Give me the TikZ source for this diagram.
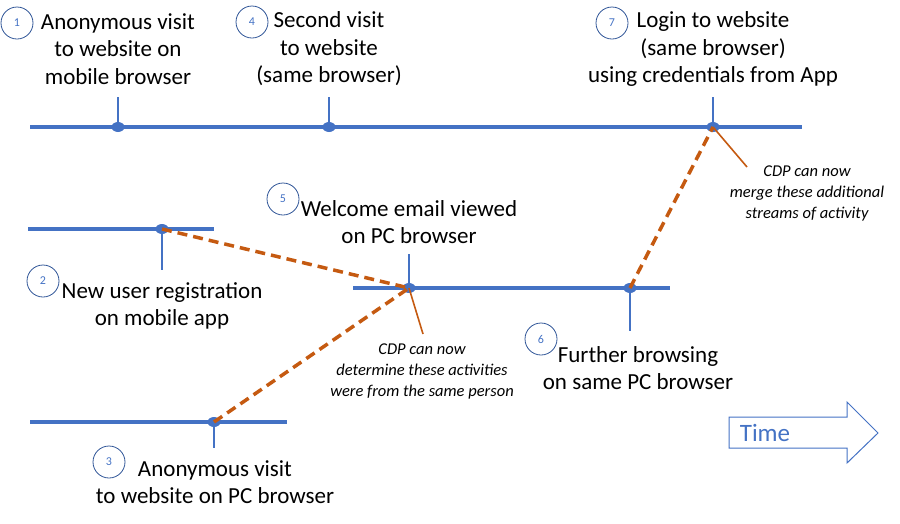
\documentclass[tikz,border=0pt]{standalone}
\usepackage{fontspec}
\setmainfont{Carlito}
\usetikzlibrary{shapes,arrows}
\usetikzlibrary{positioning}
\definecolor{lineblue}{HTML}{4472C4}
\definecolor{ringblue}{HTML}{2F5597}
\definecolor{linkorange}{HTML}{C55A11}

\begin{document}
\begin{tikzpicture}[x=1pt,y=-1pt,
    node distance = 0mm,
every node/.style = {inner sep=0pt},
       tl/.style = {draw=lineblue, line width=3.5pt},
   tickln/.style = {draw=lineblue, line width=2.5pt},
      dot/.style = {ellipse, fill=lineblue, minimum width=13pt, minimum height=10pt},
     link/.style = {draw=linkorange, line width=3.5pt, dash pattern=on 10pt off 6pt},
  pointer/.style = {draw=linkorange, line width=1.6pt},
      num/.style = {circle, draw=ringblue, line width=0.8pt, minimum size=32pt,
                    text=lineblue, font=\fontsize{12}{14}\selectfont},
      evt/.style = {align=center, font=\fontsize{23}{27.5}\selectfont},
      cmt/.style = {align=center, font=\fontsize{16.5}{21}\selectfont\itshape}]
\useasboundingbox (0,0) rectangle (900,523);
% time lines
\coordinate (mw) at (30,127);   \coordinate (me) at (802,127);
\coordinate (aw) at (28,229);   \coordinate (ae) at (214,229);
\coordinate (pw) at (353,288);  \coordinate (pe) at (670,288);
\coordinate (cw) at (30,422);   \coordinate (ce) at (287,422);
    \draw[tl] (mw) -- (me);
    \draw[tl] (aw) -- (ae);
    \draw[tl] (pw) -- (pe);
    \draw[tl] (cw) -- (ce);
% events
\node[dot] (e1) at (118,127) {};
\node[dot] (e4) at (329,127) {};
\node[dot] (e7) at (713,127) {};
\node[dot] (e2) at (162,229) {};
\node[dot] (e5) at (409,288) {};
\node[dot] (e6) at (630,288) {};
\node[dot] (e3) at (214,422) {};
\coordinate (t1) at (118,97);
\coordinate (t4) at (329,97);
\coordinate (t7) at (713,97);
\coordinate (t2) at (162,270);
\coordinate (t5) at (409,254);
\coordinate (t6) at (630,331);
\coordinate (t3) at (214,448);
    \draw[tickln] (e1.center) -- (t1);
    \draw[tickln] (e4.center) -- (t4);
    \draw[tickln] (e7.center) -- (t7);
    \draw[tickln] (e2.center) -- (t2);
    \draw[tickln] (e5.center) -- (t5);
    \draw[tickln] (e6.center) -- (t6);
    \draw[tickln] (e3.center) -- (t3);
% links
    \draw[link] (e2.center) -- (e5.center);
    \draw[link] (e3.center) -- (e5.center);
    \draw[link] (e6.center) -- (e7.center);
\coordinate (pa) at (423,334);
\coordinate (pb) at (747,167);
    \draw[pointer] (e5.center) -- (pa);
    \draw[pointer] (e7.center) -- (pb);
% numbers
\node[num] (n1) at (17,23)   {1};
\node[num] (n4) at (252,22)  {4};
\node[num] (n7) at (612,23)  {7};
\node[num] (n2) at (43,281)  {2};
\node[num] (n5) at (283,199) {5};
\node[num] (n6) at (541,339) {6};
\node[num] (n3) at (109,462) {3};
% labels
\node[evt] (l1) at (118,49)  {Anonymous visit\\to website on\\mobile browser};
\node[evt] (l4) at (329,49)  {Second visit\\to website\\(same browser)};
\node[evt] (l7) at (713,49)  {Login to website\\(same browser)\\using credentials from App};
\node[evt] (l2) at (162,306) {New user registration\\on mobile app};
\node[evt] (l5) at (409,222) {Welcome email viewed\\on PC browser};
\node[evt] (l6) at (638,368) {Further browsing\\on same PC browser};
\node[evt] (l3) at (215,482) {Anonymous visit\\to website on PC browser};
\node[cmt] (c5) at (422,371) {CDP can now\\determine these activities\\were from the same person};
\node[cmt] (c7) at (807,193) {CDP can now\\merge these additional\\streams of activity};
% time arrow
    \draw[draw=lineblue, line width=1pt] (729,417) -- (847,417) -- (847,402) -- (878,433)
          -- (847,463) -- (847,448) -- (729,448) -- cycle;
\node[text=lineblue, font=\fontsize{25}{30}\selectfont] (time) at (765,433) {Time};
    \end{tikzpicture}
\end{document}
